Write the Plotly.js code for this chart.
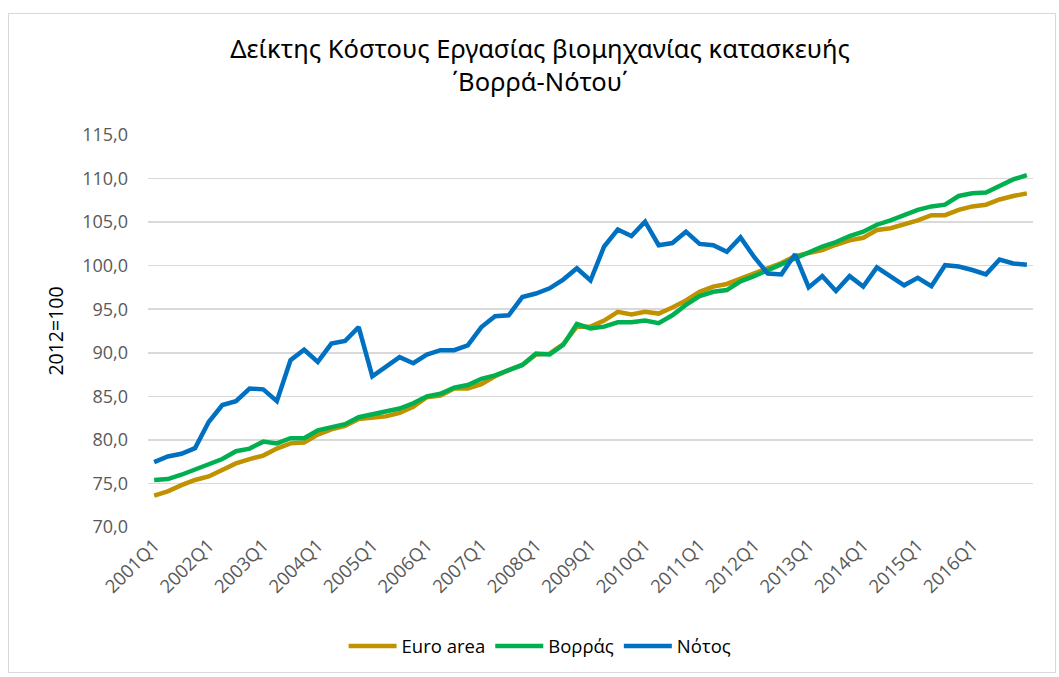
<!DOCTYPE html>
<html>
<head>
<meta charset="utf-8">
<script src="https://cdn.plot.ly/plotly-3.0.1.min.js"></script>
<style>
  html, body { margin: 0; padding: 0; background: #fff; }
  #chart { position: absolute; left: 0; top: 0; width: 1059px; height: 677px; }
  #frame { position: absolute; left: 8px; top: 13px; width: 1046px; height: 658px;
           border: 1px solid #d9d9d9; pointer-events: none; }
</style>
</head>
<body>
<div id="chart"></div>
<div id="frame"></div>
<script>
// Categories: quarterly, 2001Q1 .. 2017Q1
const years = [2001,2002,2003,2004,2005,2006,2007,2008,2009,2010,2011,2012,2013,2014,2015,2016,2017];
const quarters = [];
years.forEach(y => { for (let q = 1; q <= 4; q++) quarters.push(y + 'Q' + q); });
quarters.length = 65;

const euroArea = [73.6,74.1,74.8,75.4,75.8,76.6,77.3,77.8,78.2,79.0,79.6,79.7,80.6,81.2,81.6,82.4,
  82.5,82.7,83.1,83.8,84.9,85.1,85.9,85.9,86.4,87.3,88.0,88.6,89.8,89.9,91.0,93.0,
  93.0,93.7,94.7,94.4,94.7,94.5,95.2,96.0,97.0,97.6,97.9,98.5,99.0,99.6,100.3,101.1,
  101.5,101.8,102.4,102.9,103.2,104.1,104.3,104.7,105.2,105.8,105.8,106.4,106.8,107.0,107.6,108.0,108.3];

const vorras = [75.4,75.5,76.0,76.6,77.2,77.8,78.7,79.0,79.8,79.6,80.2,80.2,81.1,81.5,81.8,82.6,
  82.9,83.2,83.6,84.2,85.0,85.3,86.0,86.3,87.0,87.4,88.0,88.6,89.9,89.8,90.9,93.3,
  92.8,93.0,93.5,93.5,93.7,93.4,94.3,95.5,96.5,97.0,97.2,98.2,98.8,99.5,100.2,100.9,
  101.6,102.2,102.7,103.4,103.9,104.7,105.2,105.8,106.4,106.8,107.0,108.0,108.3,108.4,109.1,109.9,110.4];

const notos = [77.45,78.1,78.4,79.05,82.05,84.0,84.45,85.9,85.8,84.45,89.15,90.35,88.95,91.05,91.35,92.95,
  87.3,88.45,89.5,88.8,89.8,90.3,90.3,90.85,92.95,94.2,94.3,96.4,96.8,97.4,98.4,99.7,
  98.3,102.2,104.15,103.4,105.05,102.35,102.6,103.9,102.5,102.35,101.6,103.25,101.0,99.1,99.0,101.3,
  97.5,98.8,97.1,98.8,97.6,99.8,98.8,97.75,98.6,97.65,100.05,99.9,99.5,99.0,100.7,100.25,100.1];

const seriesNames = ['Euro area', 'Βορράς', 'Νότος'];
const tickLabels = quarters.filter((q, i) => i % 4 === 0 && i < 64);
const yTicks = [70,75,80,85,90,95,100,105,110,115];

const FONT = "'Open Sans', sans-serif";
const TFONT = "'Noto Sans', 'DejaVu Sans', sans-serif";
const mk = (name, y, color) => ({
  x: quarters, y: y, name: name, type: 'scatter', mode: 'lines',
  line: { color: color, width: 4.5 }, hoverinfo: 'x+y+name'
});

const data = [
  mk(seriesNames[0], euroArea, '#C09200'),
  mk(seriesNames[1], vorras, '#00B050'),
  mk(seriesNames[2], notos, '#0070C0')
];

const layout = {
  width: 1059, height: 677,
  margin: { l: 148, r: 26, t: 135, b: 150 },
  paper_bgcolor: '#ffffff', plot_bgcolor: '#ffffff',
  separators: ',.',
  font: { family: FONT, color: '#595959' },
  title: {
    text: 'Δείκτης Κόστους Εργασίας βιομηχανίας κατασκευής<br>\u0384Βορρά-Νότου\u0384',
    font: { family: TFONT, size: 25.5, color: '#000000' },
    x: 0.51, xref: 'container', xanchor: 'center',
    y: 0.914, yref: 'container', yanchor: 'top'
  },
  xaxis: {
    type: 'category',
    range: [-0.45, 64.45],
    tickmode: 'array', tickvals: tickLabels, ticktext: tickLabels,
    tickangle: -45,
    tickfont: { family: FONT, size: 18.5, color: '#595959' },
    ticklabelstandoff: 3,
    showgrid: false, zeroline: false, showline: false, ticks: '',
    fixedrange: true
  },
  yaxis: {
    range: [70, 115],
    tickmode: 'array', tickvals: yTicks,
    tickformat: '.1f',
    tickfont: { family: FONT, size: 18, color: '#595959' },
    showgrid: true, gridcolor: '#d9d9d9', gridwidth: 1.5,
    zeroline: false, showline: false, ticks: '',
    ticklabelstandoff: 19,
    title: { text: '2012=100', font: { family: FONT, size: 19.5, color: '#000000' }, standoff: 13 },
    fixedrange: true
  },
  showlegend: true,
  legend: {
    orientation: 'h', x: 0.51, xref: 'container', xanchor: 'center',
    y: 0.045, yref: 'container', yanchor: 'middle',
    font: { family: FONT, size: 18.5, color: '#000000' },
    itemwidth: 48, tracegroupgap: 0
  }
};

Plotly.newPlot('chart', data, layout, { displayModeBar: false, staticPlot: true });
</script>
</body>
</html>
